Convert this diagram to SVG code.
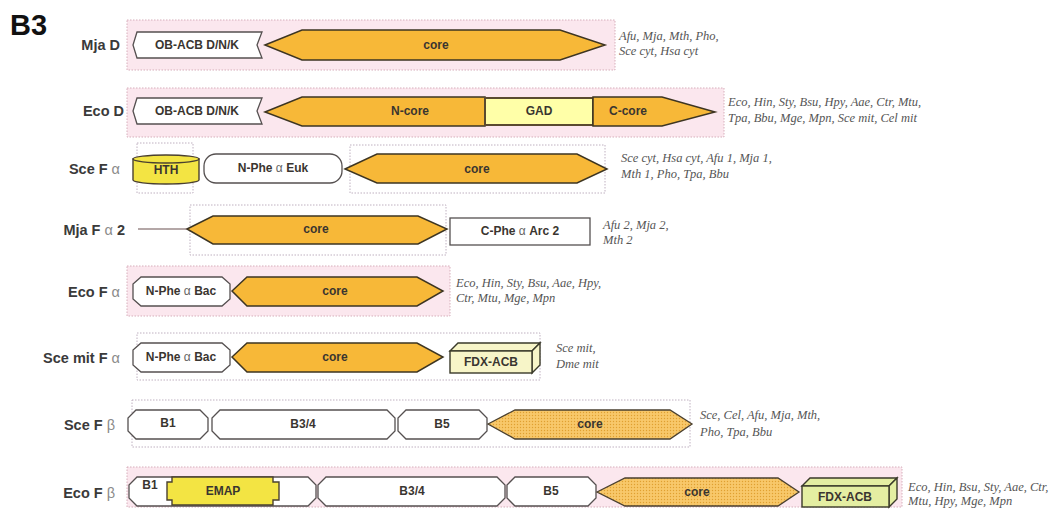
<svg xmlns="http://www.w3.org/2000/svg" width="1062" height="509" viewBox="0 0 1062 509">
<defs>
<pattern id="dots" width="3" height="3" patternUnits="userSpaceOnUse">
<rect width="3" height="3" fill="#f8c86a"/>
<circle cx="1.5" cy="1.5" r="0.7" fill="#e0a030"/>
</pattern>
<style>
.pink{fill:#fbe7ee;stroke:#d6aebb;stroke-width:1;stroke-dasharray:1.5 1.5}
.dot{fill:#ffffff;stroke:#bfb0c0;stroke-width:1;stroke-dasharray:1.5 1.5}
.core{fill:#f7b838;stroke:#3d3522;stroke-width:1.5;stroke-linejoin:miter}
.coreT{fill:url(#dots);stroke:#4a4030;stroke-width:1.3}
.box{fill:#ffffff;stroke:#555050;stroke-width:1.3}
.gad{fill:#ffffa8;stroke:#5a4a30;stroke-width:2}
.yel{fill:#f3e443;stroke:#4a4030;stroke-width:1.4}
.fdx{fill:#f7f5c8;stroke:#3a3a2a;stroke-width:1.4}
.fdx2{fill:#e4eea2;stroke:#3a3a2a;stroke-width:1.4}
.lbl{font-family:"Liberation Sans",Arial,sans-serif;font-weight:bold;font-size:14.5px;fill:#3a3a3a;text-anchor:end;dominant-baseline:central}
.gr{font-weight:normal;fill:#8a8a8a}
.in{font-family:"Liberation Sans",Arial,sans-serif;font-weight:bold;font-size:12px;fill:#3a3530;text-anchor:middle;dominant-baseline:central}
.in .gr{fill:#666}
.sp{font-family:"Liberation Serif","Times New Roman",serif;font-style:italic;font-size:12.5px;fill:#555;dominant-baseline:central}
</style>
</defs>
<text x="10" y="25" font-family="Liberation Sans, Arial, sans-serif" font-weight="bold" font-size="29" fill="#111" dominant-baseline="central">B3</text>

<g id="row-mja-d">
<rect class="pink" x="127" y="20" width="488" height="50"/>
<text class="lbl" x="120" y="45">Mja D</text>
<polygon class="box" points="137,32 262,32 257,45 262,58 137,58 133,45"/>
<text class="in" x="197" y="45">OB-ACB D/N/K</text>
<polygon class="core" points="265,45 302,30 560,30 605,45 560,60 302,60"/>
<text class="in" x="436" y="45">core</text>
<text class="sp" x="619" y="36">Afu, Mja, Mth, Pho,</text>
<text class="sp" x="619" y="51">Sce cyt, Hsa cyt</text>
</g>

<g id="row-eco-d">
<rect class="pink" x="127" y="88" width="597" height="49"/>
<text class="lbl" x="124" y="111">Eco D</text>
<polygon class="box" points="137,98 262,98 257,111 262,124 137,124 133,111"/>
<text class="in" x="197" y="111">OB-ACB D/N/K</text>
<polygon class="core" points="265,112 302,97 485,97 485,126 302,126"/>
<text class="in" x="410" y="111">N-core</text>
<rect class="gad" x="485" y="98" width="108" height="27"/>
<text class="in" x="539" y="111">GAD</text>
<polygon class="core" points="593,97 662,97 715,112 662,126 593,126"/>
<text class="in" x="628" y="111">C-core</text>
<text class="sp" x="728" y="102">Eco, Hin, Sty, Bsu, Hpy, Aae, Ctr, Mtu,</text>
<text class="sp" x="728" y="118">Tpa, Bbu, Mge, Mpn, Sce mit, Cel mit</text>
</g>

<g id="row-sce-f-alpha">
<text class="lbl" x="120" y="169">Sce F <tspan class="gr">α</tspan></text>
<rect class="dot" x="137" y="143" width="56" height="50"/>
<path class="yel" d="M133,159 L133,180 A33,4 0 0 0 199,180 L199,159 Z"/>
<ellipse class="yel" cx="166" cy="159" rx="33" ry="4"/>
<text class="in" x="166" y="170">HTH</text>
<rect class="box" x="204" y="154" width="138" height="29" rx="12"/>
<text class="in" x="273" y="168">N-Phe <tspan class="gr">α</tspan> Euk</text>
<rect class="dot" x="350" y="145" width="255" height="48"/>
<polygon class="core" points="345,169 377,154 577,154 607,169 577,183 377,183"/>
<text class="in" x="477" y="169">core</text>
<text class="sp" x="621" y="158">Sce cyt, Hsa cyt, Afu 1, Mja 1,</text>
<text class="sp" x="621" y="174">Mth 1, Pho, Tpa, Bbu</text>
</g>

<g id="row-mja-f-alpha-2">
<text class="lbl" x="125" y="230">Mja F <tspan class="gr">α</tspan> 2</text>
<rect class="dot" x="190" y="205" width="256" height="50"/>
<polygon class="core" points="187,229 213,216 418,216 447,229 418,244 213,244"/>
<text class="in" x="316" y="229">core</text>
<rect class="box" x="450" y="218" width="140" height="27"/>
<text class="in" x="520" y="231">C-Phe <tspan class="gr">α</tspan> Arc 2</text>
<text class="sp" x="603" y="225">Afu 2, Mja 2,</text>
<text class="sp" x="603" y="240">Mth 2</text>
</g>

<g id="row-eco-f-alpha">
<rect class="pink" x="127" y="266" width="323" height="50"/>
<text class="lbl" x="120" y="292">Eco F <tspan class="gr">α</tspan></text>
<polygon class="box" points="141,277 222,277 230,284 230,299 222,306 141,306 133,299 133,284"/>
<text class="in" x="181" y="291">N-Phe <tspan class="gr">α</tspan> Bac</text>
<polygon class="core" points="232,291 247,277 417,277 443,291 417,306 247,306"/>
<text class="in" x="335" y="291">core</text>
<text class="sp" x="456" y="283">Eco, Hin, Sty, Bsu, Aae, Hpy,</text>
<text class="sp" x="456" y="298">Ctr, Mtu, Mge, Mpn</text>
</g>

<g id="row-sce-mit-f-alpha">
<rect class="dot" x="137" y="333" width="403" height="47"/>
<text class="lbl" x="120" y="358">Sce mit F <tspan class="gr">α</tspan></text>
<polygon class="box" points="141,343 222,343 230,350 230,365 222,372 141,372 133,365 133,350"/>
<text class="in" x="181" y="357">N-Phe <tspan class="gr">α</tspan> Bac</text>
<polygon class="core" points="232,357 247,343 417,343 443,357 417,372 247,372"/>
<text class="in" x="335" y="357">core</text>
<polygon class="fdx" points="450,351 458,343 540,343 532,351"/>
<polygon class="fdx" points="532,351 540,343 540,365 532,373"/>
<rect class="fdx" x="450" y="351" width="82" height="22"/>
<text class="in" x="491" y="362">FDX-ACB</text>
<text class="sp" x="556" y="348">Sce mit,</text>
<text class="sp" x="556" y="364">Dme mit</text>
</g>

<g id="row-sce-f-beta">
<rect class="dot" x="132" y="400" width="558" height="47"/>
<text class="lbl" x="115" y="425">Sce F <tspan class="gr">β</tspan></text>
<polygon class="box" points="136,410 200,410 208,418 208,431 200,439 136,439 128,431 128,418"/>
<text class="in" x="168" y="423">B1</text>
<polygon class="box" points="220,410 387,410 395,418 395,431 387,439 220,439 212,431 212,418" fill="#fdf4f8"/>
<text class="in" x="303" y="424">B3/4</text>
<polygon class="box" points="406,410 479,410 487,418 487,431 479,439 406,439 398,431 398,418"/>
<text class="in" x="442" y="424">B5</text>
<polygon class="coreT" points="488,424 515,410 670,410 692,424 670,439 515,439"/>
<text class="in" x="590" y="424">core</text>
<text class="sp" x="700" y="415">Sce, Cel, Afu, Mja, Mth,</text>
<text class="sp" x="700" y="432">Pho, Tpa, Bbu</text>
</g>

<g id="row-eco-f-beta">
<rect class="pink" x="127" y="467" width="775" height="40"/>
<text class="lbl" x="115" y="493">Eco F <tspan class="gr">β</tspan></text>
<polygon class="box" points="137,477 308,477 316,485 316,498 308,506 137,506 129,498 129,485"/>
<text class="in" x="150" y="485" font-size="10">B1</text>
<polygon class="yel" fill="#f5e060" points="172,477 273,477 273,482 279,482 279,500 273,500 273,505 172,505 172,500 167,500 167,482 172,482"/>
<text class="in" x="223" y="491">EMAP</text>
<polygon class="box" points="326,477 497,477 505,485 505,498 497,506 326,506 318,498 318,485"/>
<text class="in" x="412" y="491">B3/4</text>
<polygon class="box" points="515,477 588,477 596,485 596,498 588,506 515,506 507,498 507,485"/>
<text class="in" x="551" y="491">B5</text>
<polygon class="coreT" points="597,492 625,478 778,478 799,492 778,506 625,506"/>
<text class="in" x="697" y="492">core</text>
<polygon class="fdx2" points="802,486 810,478 897,478 889,486"/>
<polygon class="fdx2" points="889,486 897,478 897,499 889,507"/>
<rect class="fdx2" x="802" y="486" width="87" height="21"/>
<text class="in" x="845" y="497">FDX-ACB</text>
<text class="sp" x="908" y="487">Eco, Hin, Bsu, Sty, Aae, Ctr,</text>
<text class="sp" x="908" y="501">Mtu, Hpy, Mge, Mpn</text>
</g>

<g id="connectors">
<line x1="138" y1="229" x2="187" y2="229" stroke="#6a5050" stroke-width="1.2"/>
</g>
</svg>
